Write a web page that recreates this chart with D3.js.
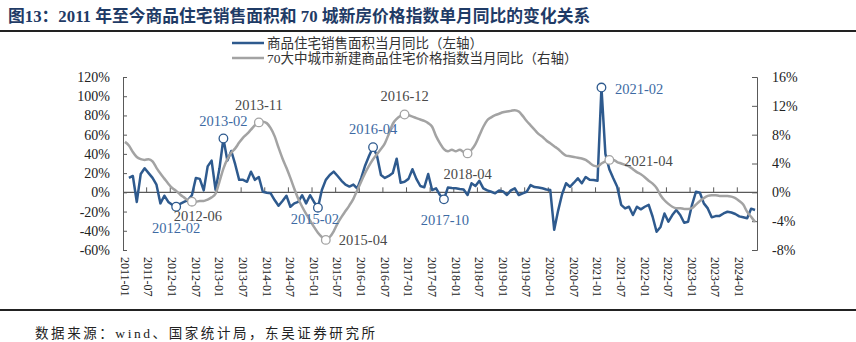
<!DOCTYPE html>
<html><head><meta charset="utf-8">
<script src="https://cdn.jsdelivr.net/npm/d3@7"></script>
<style>body{margin:0;background:#fff} svg{display:block}</style>
</head><body>
<svg id="c" width="856" height="342"></svg>
<script>
// 商品住宅销售面积当月同比 (%), left axis, from 2011-01
const salesYoY = [null,15,17,-10,19,25,20,15,8,-11.5,-3.5,-10,
-13,-15,-12,-10,-8,-3,15,14,2,27,33,2.5,
25,56,33,43,29,13,13,11,21.5,13,16,0.6,
-0.4,-1,-8,-14,-9,-3.5,-15,-11.5,-10,-3,-11.5,-3,
-10,-16,2.4,13,18,21.5,17,12,8,6,8,4,
15,28,38,47,38,18,15,17,20,35,10,11,
14,24,14,6.6,5.2,19,2.4,4.2,-2.8,-7.3,5,4.5,
4.2,3.5,3,-2.8,9.4,6.6,12,4.2,2,0.6,-1,2,
1,-2.8,2,4.2,-2.8,-1,0.6,7.6,5.5,5,4.2,3,
2.4,-39,-19,-2,9.4,5.8,10,14.6,9.4,16,13,12.8,
12,109,40,24,14.6,5.8,-13,-16.7,-15,-23.6,-15,-17.7,
-15,-13,-25.4,-41,-36,-22,-30.6,-23.6,-18.4,-23.6,-31.7,-30.6,
-13,0.6,-0.4,-11.5,-16.7,-26,-24.7,-24.5,-22,-20.2,-21,-22.5,
-25,-26,-27,-17,-18.4];
// 70大中城市新建商品住宅价格指数当月同比 (%), right axis, from 2011-01
const priceYoY = [7.0,6.5,5.6,4.9,4.6,4.5,4.6,4.3,3.4,2.6,1.9,1.2,
0.6,0.2,-0.3,-0.7,-1.1,-1.3,-1.3,-1.2,-1.2,-1.0,-0.7,-0.2,
1.5,3.3,4.6,5.5,6.1,6.9,7.6,8.1,8.7,9.3,9.7,9.8,
9.6,8.9,7.8,6.2,4.7,3.4,2.0,0.5,-0.9,-2.0,-3.0,-3.9,
-4.8,-5.6,-6.2,-6.6,-6.2,-5.4,-4.3,-3.4,-2.6,-1.8,-0.9,0.3,
1.5,2.7,3.7,4.6,5.3,6.0,6.8,8.1,9.5,10.2,10.6,10.8,
10.7,10.5,10.3,10.1,9.9,9.6,9.1,7.8,6.8,6.0,5.7,5.9,
5.7,5.9,5.6,5.4,5.9,6.7,7.9,9.1,10.0,10.4,10.7,10.9,
11.1,11.2,11.3,11.4,11.2,10.6,9.9,9.3,8.7,8.1,7.7,7.2,
6.8,6.4,6.0,5.5,5.1,5.0,4.9,4.8,4.7,4.5,4.1,3.7,
3.6,4.0,4.3,4.5,4.5,4.2,4.0,3.8,3.6,3.2,2.8,2.5,
2.1,1.6,1.2,0.6,-0.4,-1.1,-1.6,-2.0,-2.2,-2.2,-2.3,-2.3,
-2.2,-1.7,-1.2,-0.8,-0.5,-0.4,-0.4,-0.5,-0.5,-0.5,-0.6,-0.8,
-1.2,-1.7,-2.7,-3.4,-4.1];
const tickLabels = ["2011-01","2011-07","2012-01","2012-07","2013-01","2013-07","2014-01","2014-07",
"2015-01","2015-07","2016-01","2016-07","2017-01","2017-07","2018-01","2018-07","2019-01","2019-07",
"2020-01","2020-07","2021-01","2021-07","2022-01","2022-07","2023-01","2023-07","2024-01"];
const leftTicks = [-60,-40,-20,0,20,40,60,80,100,120];
const rightTicks = [-8,-4,0,4,8,12,16];
const salesMarks = ["2012-02","2013-02","2015-02","2016-04","2017-10","2021-02"];
const priceMarks = ["2012-06","2013-11","2015-04","2016-12","2018-04","2021-04"];
const seriesNames = ["商品住宅销售面积当月同比（左轴）","70大中城市新建商品住宅价格指数当月同比（右轴）"];

const fmt = d3.timeFormat("%Y-%m");
const months = d3.range(salesYoY.length).map(i => fmt(d3.timeMonth.offset(new Date(2011,0,1), i)));

// label placement (style, not data)
const labelPos = {
 "s2012-02":{dx:0,dy:21,a:"middle"}, "s2013-02":{dx:0,dy:-18,a:"middle"},
 "s2015-02":{dx:-3,dy:11,a:"middle"}, "s2016-04":{dx:0,dy:-18,a:"middle"},
 "s2017-10":{dx:1,dy:20.5,a:"middle"}, "s2021-02":{dx:13.5,dy:1,a:"start"},
 "p2012-06":{dx:6,dy:14.5,a:"middle"}, "p2013-11":{dx:0,dy:-17.5,a:"middle"},
 "p2015-04":{dx:13,dy:0.5,a:"start"}, "p2016-12":{dx:0,dy:-18.5,a:"middle"},
 "p2018-04":{dx:0,dy:21,a:"middle"}, "p2021-04":{dx:15,dy:1,a:"start"}
};

const BLUE = "#2e5a8e", GRAY = "#a3a3a3", BLUE_T = "#3d6aa3", GRAY_T = "#4a4a4a", AX = "#595959";
const serif = "'Liberation Serif','Times New Roman',serif";
const cjk = "'Liberation Serif','Noto Sans CJK SC',serif";

const svg = d3.select("#c");
const x = d3.scaleBand().domain(months).range([123, 757]).padding(0);
const cx = m => x(m) + x.bandwidth()/2;
const yL = d3.scaleLinear().domain([-60,120]).range([250,77]);
const yR = d3.scaleLinear().domain([-8,16]).range([250,77]);

// title
svg.append("text").attr("x",8).attr("y",22).attr("font-family",cjk).attr("font-weight","bold")
  .attr("font-size",16.8).attr("fill","#1f3b66")
  .text("图13：2011 年至今商品住宅销售面积和 70 城新房价格指数单月同比的变化关系");
svg.append("line").attr("x1",0).attr("x2",856).attr("y1",31).attr("y2",31).attr("stroke","#222").attr("stroke-width",1.8);
svg.append("line").attr("x1",0).attr("x2",856).attr("y1",310).attr("y2",310).attr("stroke","#222").attr("stroke-width",1.8);

// legend
[[BLUE,43],[GRAY,58]].forEach((d,i)=>{
  svg.append("line").attr("x1",232).attr("x2",264).attr("y1",d[1]).attr("y2",d[1]).attr("stroke",d[0]).attr("stroke-width",2.5);
  svg.append("text").attr("x",267).attr("y",d[1]).attr("dy","0.36em").attr("font-family",cjk)
    .attr("font-size",13.5).attr("fill","#333").text(seriesNames[i]);
});

// left axis
const gL = svg.append("g").attr("transform","translate(123,0)")
  .call(d3.axisLeft(yL).tickValues(leftTicks).tickSize(-4).tickPadding(13).tickFormat(d=>d+"%"));
gL.select(".domain").attr("stroke",AX);
gL.selectAll(".tick line").attr("stroke",AX);
gL.selectAll("text").attr("font-family",serif).attr("font-size",14).attr("fill","#222");

// right axis
const gR = svg.append("g").attr("transform","translate(757,0)")
  .call(d3.axisRight(yR).tickValues(rightTicks).tickSize(-5).tickPadding(15).tickFormat(d=>d+"%"));
gR.select(".domain").attr("stroke",AX);
gR.selectAll(".tick line").attr("stroke",AX);
gR.selectAll("text").attr("font-family",serif).attr("font-size",14).attr("fill","#222");

// x axis at zero
const y0 = yL(0);
svg.append("line").attr("x1",123).attr("x2",757).attr("y1",y0).attr("y2",y0).attr("stroke",AX).attr("stroke-width",1.3);
svg.append("g").selectAll("line").data(tickLabels.slice(1)).join("line")
  .attr("x1",d=>x(d)).attr("x2",d=>x(d)).attr("y1",y0).attr("y2",y0-5).attr("stroke",AX);
svg.append("g").selectAll("text").data(tickLabels).join("text")
  .attr("transform",d=>`translate(${cx(d)},257) rotate(90)`)
  .attr("dy","0.35em").attr("font-family",serif).attr("font-size",12).attr("fill","#222").text(d=>d);

// lines
const lineP = d3.line().x((d,i)=>cx(months[i])).y(d=>yR(d)).curve(d3.curveMonotoneX);
const lineS = d3.line().defined(d=>d!=null).x((d,i)=>cx(months[i])).y(d=>yL(d));
svg.append("path").datum(salesYoY).attr("d",lineS).attr("fill","none").attr("stroke",BLUE).attr("stroke-width",2.5).attr("stroke-linejoin","round");
svg.append("path").datum(priceYoY).attr("d",lineP).attr("fill","none").attr("stroke",GRAY).attr("stroke-width",2.5);

// markers + labels
function marks(list, vals, scale, col, tcol, key){
  list.forEach(m=>{
    const i = months.indexOf(m), px = cx(m), py = scale(vals[i]), p = labelPos[key+m];
    svg.append("circle").attr("cx",px).attr("cy",py).attr("r",4.3).attr("fill","#fff").attr("stroke",col).attr("stroke-width",1.3);
    svg.append("text").attr("x",px+p.dx).attr("y",py+p.dy).attr("dy","0.35em").attr("text-anchor",p.a)
      .attr("font-family",serif).attr("font-size",14.5).attr("fill",tcol).text(m);
  });
}
marks(salesMarks, salesYoY, yL, BLUE, BLUE_T, "s");
marks(priceMarks, priceYoY, yR, GRAY, GRAY_T, "p");

// source
svg.append("text").attr("x",35).attr("y",333).attr("dy","0.35em").attr("font-family",cjk)
  .attr("font-size",13.5).attr("fill","#222").attr("textLength",340).attr("lengthAdjust","spacing")
  .text("数据来源：wind、国家统计局，东吴证券研究所");
</script>
</body></html>
